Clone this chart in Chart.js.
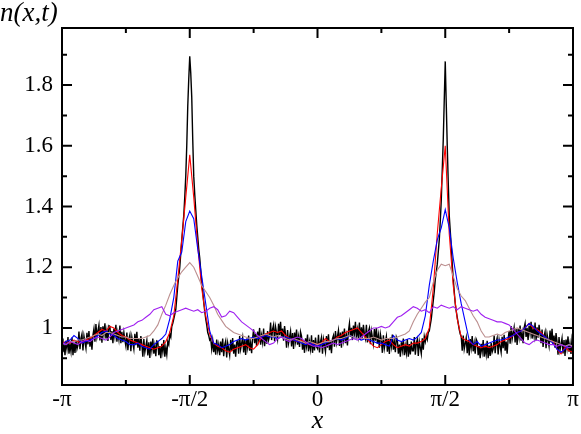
<!DOCTYPE html>
<html>
<head>
<meta charset="utf-8">
<script src="https://cdn.jsdelivr.net/npm/chart.js@4.4.1/dist/chart.umd.min.js"></script>
<style>
  html, body { margin: 0; padding: 0; background: #fff; overflow: hidden; }
</style>
</head>
<body>
<canvas id="c" width="581" height="434"></canvas>
<script>
// axis ticks
const xMajor = [-Math.PI, -Math.PI / 2, 0, Math.PI / 2, Math.PI];
const xMinor = [-3 * Math.PI / 4, -Math.PI / 4, Math.PI / 4, 3 * Math.PI / 4];
const xLabels = ['-\u03c0', '-\u03c0/2', '0', '\u03c0/2', '\u03c0'];
const yMajor = [1.0, 1.2, 1.4, 1.6, 1.8];
const yMinor = [0.9, 1.1, 1.3, 1.5, 1.7, 1.9];
const yLabels = ['1', '1.2', '1.4', '1.6', '1.8'];

// n(x,t), black curve: 513 samples from -pi to pi
const nBlack = [
  0.965, 0.92, 0.95, 0.91, 0.958, 0.932, 0.97, 0.915, 0.945, 0.922, 0.968, 0.91, 0.952, 0.918, 0.96, 0.93,
  0.943, 0.988, 0.93, 0.966, 0.98, 0.926, 0.973, 0.953, 0.933, 0.984, 0.946, 0.99, 0.938, 0.968, 0.928, 0.976,
  0.997, 0.955, 1.013, 0.97, 0.99, 1.009, 0.959, 1.003, 0.951, 1.005, 0.977, 1.015, 0.965, 0.991, 0.957, 1.007,
  1.005, 0.96, 0.99, 0.95, 0.998, 0.972, 1.01, 0.955, 0.985, 0.962, 1.008, 0.95, 0.987, 0.953, 0.985, 0.96,
  0.94, 0.985, 0.927, 0.963, 0.977, 0.923, 0.97, 0.95, 0.93, 0.981, 0.943, 0.987, 0.935, 0.965, 0.925, 0.973,
  0.947, 0.905, 0.963, 0.92, 0.94, 0.959, 0.909, 0.953, 0.901, 0.955, 0.927, 0.965, 0.915, 0.941, 0.907, 0.957,
  0.955, 0.91, 0.94, 0.9, 0.948, 0.922, 0.96, 0.905, 0.935, 0.912, 0.955, 0.945, 0.98, 0.97, 1.005, 1.015,
  1.03, 1.045, 1.06, 1.1, 1.14, 1.17, 1.2, 1.245, 1.29, 1.33, 1.37, 1.43, 1.5, 1.6, 1.73, 1.82,
  1.895, 1.84, 1.76, 1.62, 1.5, 1.44, 1.39, 1.34, 1.3, 1.26, 1.23, 1.19, 1.15, 1.12, 1.085, 1.055,
  1.03, 1.01, 0.985, 0.975, 0.96, 0.965, 0.93, 0.958, 0.92, 0.95, 0.912, 0.962, 0.925, 0.945, 0.91, 0.955,
  0.92, 0.965, 0.907, 0.943, 0.957, 0.903, 0.95, 0.93, 0.91, 0.961, 0.923, 0.967, 0.915, 0.945, 0.905, 0.953,
  0.957, 0.915, 0.973, 0.93, 0.95, 0.969, 0.919, 0.963, 0.911, 0.965, 0.937, 0.975, 0.925, 0.951, 0.917, 0.967,
  0.995, 0.95, 0.98, 0.94, 0.988, 0.962, 1.0, 0.945, 0.975, 0.952, 0.998, 0.94, 0.982, 0.948, 0.99, 0.96,
  0.973, 1.018, 0.96, 0.996, 1.01, 0.956, 1.003, 0.983, 0.963, 1.014, 0.976, 1.02, 0.968, 0.998, 0.958, 1.006,
  0.977, 0.935, 0.993, 0.95, 0.97, 0.989, 0.939, 0.983, 0.931, 0.985, 0.957, 0.995, 0.945, 0.971, 0.937, 0.987,
  0.973, 0.928, 0.958, 0.918, 0.966, 0.94, 0.978, 0.923, 0.953, 0.93, 0.976, 0.918, 0.96, 0.926, 0.968, 0.938,
  0.932, 0.977, 0.919, 0.955, 0.969, 0.915, 0.962, 0.942, 0.922, 0.973, 0.935, 0.979, 0.927, 0.957, 0.917, 0.965,
  0.975, 0.938, 0.99, 0.952, 0.972, 0.992, 0.941, 0.985, 0.935, 0.988, 0.96, 0.998, 0.95, 0.975, 0.942, 0.99,
  1.015, 0.97, 1.0, 0.96, 1.008, 0.982, 1.02, 0.965, 0.995, 0.972, 1.018, 0.96, 1.002, 0.968, 1.01, 0.98,
  0.965, 1.01, 0.952, 0.988, 1.0, 0.946, 0.99, 0.97, 0.948, 0.996, 0.958, 1.0, 0.948, 0.975, 0.935, 0.98,
  0.96, 0.918, 0.976, 0.933, 0.953, 0.972, 0.922, 0.966, 0.914, 0.968, 0.94, 0.978, 0.928, 0.954, 0.92, 0.97,
  0.96, 0.915, 0.945, 0.905, 0.953, 0.927, 0.965, 0.91, 0.94, 0.917, 0.963, 0.905, 0.947, 0.913, 0.955, 0.925,
  0.925, 0.97, 0.912, 0.948, 0.962, 0.908, 0.955, 0.935, 0.915, 0.966, 0.928, 0.972, 0.955, 0.975, 0.962, 0.985,
  0.99, 1.01, 1.03, 1.06, 1.09, 1.12, 1.16, 1.185, 1.21, 1.25, 1.29, 1.35, 1.42, 1.52, 1.62, 1.75,
  1.878, 1.74, 1.6, 1.48, 1.37, 1.32, 1.27, 1.21, 1.16, 1.12, 1.08, 1.055, 1.035, 1.015, 0.995, 0.98,
  0.972, 0.925, 0.975, 0.93, 0.948, 0.967, 0.917, 0.961, 0.909, 0.963, 0.935, 0.973, 0.923, 0.949, 0.915, 0.963,
  0.955, 0.91, 0.94, 0.9, 0.948, 0.922, 0.96, 0.905, 0.935, 0.912, 0.958, 0.9, 0.942, 0.908, 0.95, 0.92,
  0.93, 0.975, 0.917, 0.953, 0.967, 0.913, 0.96, 0.94, 0.92, 0.971, 0.933, 0.977, 0.925, 0.955, 0.915, 0.963,
  0.99, 0.948, 1.006, 0.963, 0.983, 1.002, 0.952, 0.996, 0.944, 0.998, 0.97, 1.008, 0.958, 0.984, 0.95, 1.0,
  1.015, 0.97, 1.0, 0.96, 1.008, 0.982, 1.02, 0.965, 0.995, 0.972, 1.018, 0.96, 1.002, 0.968, 1.01, 0.98,
  0.95, 0.995, 0.937, 0.973, 0.987, 0.933, 0.98, 0.96, 0.94, 0.991, 0.953, 0.997, 0.945, 0.975, 0.935, 0.983,
  0.954, 0.912, 0.97, 0.927, 0.947, 0.966, 0.916, 0.96, 0.908, 0.962, 0.934, 0.972, 0.922, 0.948, 0.914, 0.964,
  0.945
];

// other curves: 129 samples from -pi to pi
const nRed = [
  0.95, 0.955, 0.95, 0.96, 0.955, 0.95, 0.96, 0.965,
  0.975, 0.985, 0.995, 0.99, 1.005, 1.0, 0.985, 0.975,
  0.97, 0.96, 0.955, 0.95, 0.945, 0.94, 0.935, 0.93,
  0.935, 0.94, 0.955, 0.985, 1.04, 1.16, 1.29, 1.43,
  1.57, 1.43, 1.27, 1.13, 1.04, 0.98, 0.95, 0.94,
  0.935, 0.925, 0.92, 0.93, 0.935, 0.94, 0.945, 0.935,
  0.93, 0.945, 0.97, 0.98, 0.985, 0.99, 0.985, 0.99,
  0.975, 0.965, 0.96, 0.955, 0.96, 0.95, 0.945, 0.95,
  0.945, 0.95, 0.965, 0.955, 0.96, 0.97, 0.975, 0.985,
  0.99, 0.995, 1.0, 0.985, 0.97, 0.955, 0.94, 0.935,
  0.945, 0.955, 0.96, 0.945, 0.935, 0.94, 0.945, 0.94,
  0.95, 0.95, 0.955, 0.965, 1.0, 1.13, 1.31, 1.46,
  1.6, 1.31, 1.14, 1.03, 0.97, 0.96, 0.955, 0.945,
  0.94, 0.935, 0.94, 0.935, 0.94, 0.945, 0.955, 0.96,
  0.965, 0.975, 0.985, 0.99, 1.0, 1.015, 1.0, 0.995,
  0.985, 0.97, 0.96, 0.955, 0.93, 0.915, 0.935, 0.925,
  0.92
];

const nBlue = [
  0.945, 0.955, 0.96, 0.975, 0.965, 0.95, 0.955, 0.96,
  0.965, 0.975, 0.985, 0.99, 0.98, 0.975, 0.965, 0.96,
  0.955, 0.945, 0.945, 0.95, 0.94, 0.935, 0.93, 0.945,
  0.955, 0.965, 0.98, 1.03, 1.1, 1.22, 1.25, 1.35,
  1.385, 1.36, 1.26, 1.17, 1.08, 0.99, 0.95, 0.945,
  0.935, 0.94, 0.945, 0.955, 0.96, 0.965, 0.96, 0.965,
  0.97, 0.965, 0.97, 0.975, 0.97, 0.97, 0.965, 0.97,
  0.97, 0.965, 0.96, 0.955, 0.95, 0.945, 0.95, 0.945,
  0.94, 0.945, 0.95, 0.955, 0.96, 0.965, 0.96, 0.965,
  0.975, 0.97, 0.965, 0.96, 0.965, 0.96, 0.955, 0.95,
  0.95, 0.945, 0.94, 0.975, 0.96, 0.955, 0.96, 0.965,
  0.96, 0.97, 0.985, 1.04, 1.14, 1.22, 1.29, 1.33,
  1.39, 1.33, 1.23, 1.15, 1.08, 1.02, 0.96, 0.945,
  0.955, 0.94, 0.945, 0.95, 0.955, 0.96, 0.96, 0.965,
  0.97, 0.975, 0.985, 0.99, 1.0, 1.015, 1.005, 0.99,
  0.98, 0.97, 0.96, 0.95, 0.93, 0.92, 0.93, 0.945,
  0.94
];

const nBrown = [
  0.95, 0.945, 0.955, 0.955, 0.96, 0.96, 0.965, 0.97,
  0.975, 0.98, 0.975, 0.985, 0.985, 0.98, 0.975, 0.97,
  0.97, 0.965, 0.965, 0.965, 0.965, 0.97, 0.975, 0.99,
  1.01, 1.045, 1.075, 1.11, 1.14, 1.165, 1.185, 1.2,
  1.215, 1.2, 1.17, 1.14, 1.12, 1.1, 1.075, 1.045,
  1.025, 1.005, 0.995, 0.985, 0.98, 0.975, 0.97, 0.965,
  0.965, 0.97, 0.975, 0.98, 0.975, 0.97, 0.975, 0.97,
  0.965, 0.96, 0.965, 0.96, 0.955, 0.95, 0.955, 0.95,
  0.945, 0.95, 0.955, 0.955, 0.96, 0.965, 0.965, 0.97,
  0.975, 0.97, 0.965, 0.965, 0.965, 0.965, 0.97, 0.965,
  0.96, 0.965, 0.965, 0.965, 0.97, 0.975, 0.98, 0.99,
  1.02, 1.045, 1.065, 1.085, 1.1, 1.15, 1.19, 1.21,
  1.205, 1.21, 1.17, 1.13, 1.105, 1.09, 1.065, 1.04,
  1.02, 0.99, 0.97, 0.97, 0.975, 0.98, 0.975, 0.985,
  0.99, 0.995, 1.0, 0.995, 0.99, 0.985, 0.98, 0.975,
  0.97, 0.965, 0.96, 0.955, 0.95, 0.945, 0.94, 0.945,
  0.94
];

const nViolet = [
  0.95, 0.945, 0.955, 0.95, 0.945, 0.955, 0.96, 0.955,
  0.965, 0.97, 0.965, 0.96, 0.97, 0.985, 0.99, 0.995,
  1.0, 1.005, 1.01, 1.02, 1.025, 1.035, 1.045, 1.06,
  1.065, 1.07, 1.045, 1.04, 1.05, 1.055, 1.06, 1.065,
  1.06, 1.055, 1.06, 1.05, 1.055, 1.065, 1.07, 1.06,
  1.036, 1.04, 1.055, 1.05, 1.035, 1.02, 1.01, 1.0,
  0.99, 0.975, 0.965, 0.955, 0.945, 0.95, 0.965, 0.97,
  0.96, 0.955, 0.965, 0.97, 0.965, 0.955, 0.945, 0.94,
  0.94, 0.935, 0.94, 0.945, 0.95, 0.945, 0.95, 0.955,
  0.96, 0.965, 0.96, 0.97, 0.98, 0.99, 1.0, 1.0,
  1.005, 1.0, 1.005, 1.02, 1.035, 1.04, 1.05, 1.06,
  1.07, 1.065, 1.055, 1.06, 1.05, 1.07, 1.065, 1.075,
  1.07, 1.065, 1.07, 1.06, 1.07, 1.065, 1.06, 1.055,
  1.06, 1.045, 1.035, 1.03, 1.025, 1.02, 1.02, 1.015,
  1.01, 0.995, 0.98, 0.965, 0.95, 0.945, 0.955, 0.96,
  0.955, 0.95, 0.945, 0.945, 0.94, 0.945, 0.94, 0.935,
  0.94
];

const FONT = "'Liberation Serif', 'DejaVu Serif', serif";
const MAJOR = 10, MINOR = 5;

// evenly spaced x from -pi to pi for a series of n samples
const grid = n => Array.from({length: n}, (_, i) => -Math.PI + 2 * Math.PI * i / (n - 1));
const pts = ys => { const xs = grid(ys.length); return ys.map((y, i) => ({x: xs[i], y})); };
const line = (ys, color, w) => ({
  data: pts(ys), borderColor: color, borderWidth: w || 1.1,
  pointRadius: 0, tension: 0, fill: false
});

// frame and inward ticks on all four sides
const framePlugin = {
  id: 'frame',
  afterDatasetsDraw(chart) {
    const {ctx, chartArea: a, scales: {x, y}} = chart;
    ctx.save();
    ctx.strokeStyle = '#000';
    ctx.lineWidth = 2;
    ctx.strokeRect(a.left, a.top, a.right - a.left, a.bottom - a.top);
    ctx.beginPath();
    const xt = (v, len) => {
      const p = x.getPixelForValue(v);
      ctx.moveTo(p, a.bottom); ctx.lineTo(p, a.bottom - len);
      ctx.moveTo(p, a.top); ctx.lineTo(p, a.top + len);
    };
    const yt = (v, len) => {
      const p = y.getPixelForValue(v);
      ctx.moveTo(a.left, p); ctx.lineTo(a.left + len, p);
      ctx.moveTo(a.right, p); ctx.lineTo(a.right - len, p);
    };
    xMajor.forEach(v => xt(v, MAJOR));
    xMinor.forEach(v => xt(v, MINOR));
    yMajor.forEach(v => yt(v, MAJOR));
    yMinor.forEach(v => yt(v, MINOR));
    ctx.stroke();
    ctx.restore();
  }
};

new Chart(document.getElementById('c'), {
  type: 'line',
  data: {
    datasets: [
      line(nViolet, 'rgb(160,32,240)'),
      line(nBrown, 'rgb(188,143,143)'),
      line(nBlue, '#0000ff'),
      line(nRed, '#ff0000'),
      line(nBlack, '#000000', 1.4)
    ]
  },
  options: {
    responsive: false,
    animation: false,
    layout: { padding: { top: 0, right: 8, bottom: 0, left: 0 } },
    plugins: {
      legend: { display: false },
      tooltip: { enabled: false },
      title: {
        display: true, text: 'n(x,t)', align: 'start', color: '#000', padding: 0,
        font: { family: FONT, size: 27, style: 'italic', weight: 'normal', lineHeight: 28 / 27 }
      }
    },
    scales: {
      x: {
        type: 'linear', min: -Math.PI, max: Math.PI,
        grid: { display: false, drawTicks: false }, border: { display: false },
        afterBuildTicks: s => { s.ticks = xMajor.map(v => ({value: v})); },
        afterFit: s => { s.height = 49; },
        ticks: {
          autoSkip: false, maxRotation: 0, padding: 1, color: '#000',
          font: { family: FONT, size: 23 },
          callback: (v, i) => xLabels[i]
        },
        title: {
          display: true, text: 'x', color: '#000', padding: { top: 0, bottom: 0 },
          font: { family: FONT, size: 26, style: 'italic', lineHeight: 1 }
        }
      },
      y: {
        type: 'linear', min: 0.812, max: 1.988,
        grid: { display: false, drawTicks: false }, border: { display: false },
        afterBuildTicks: s => { s.ticks = yMajor.map(v => ({value: v})); },
        afterFit: s => { s.width = 62; },
        ticks: {
          padding: 9, color: '#000',
          font: { family: FONT, size: 23 },
          callback: (v, i) => yLabels[i]
        }
      }
    }
  },
  plugins: [framePlugin]
});
</script>
</body>
</html>
